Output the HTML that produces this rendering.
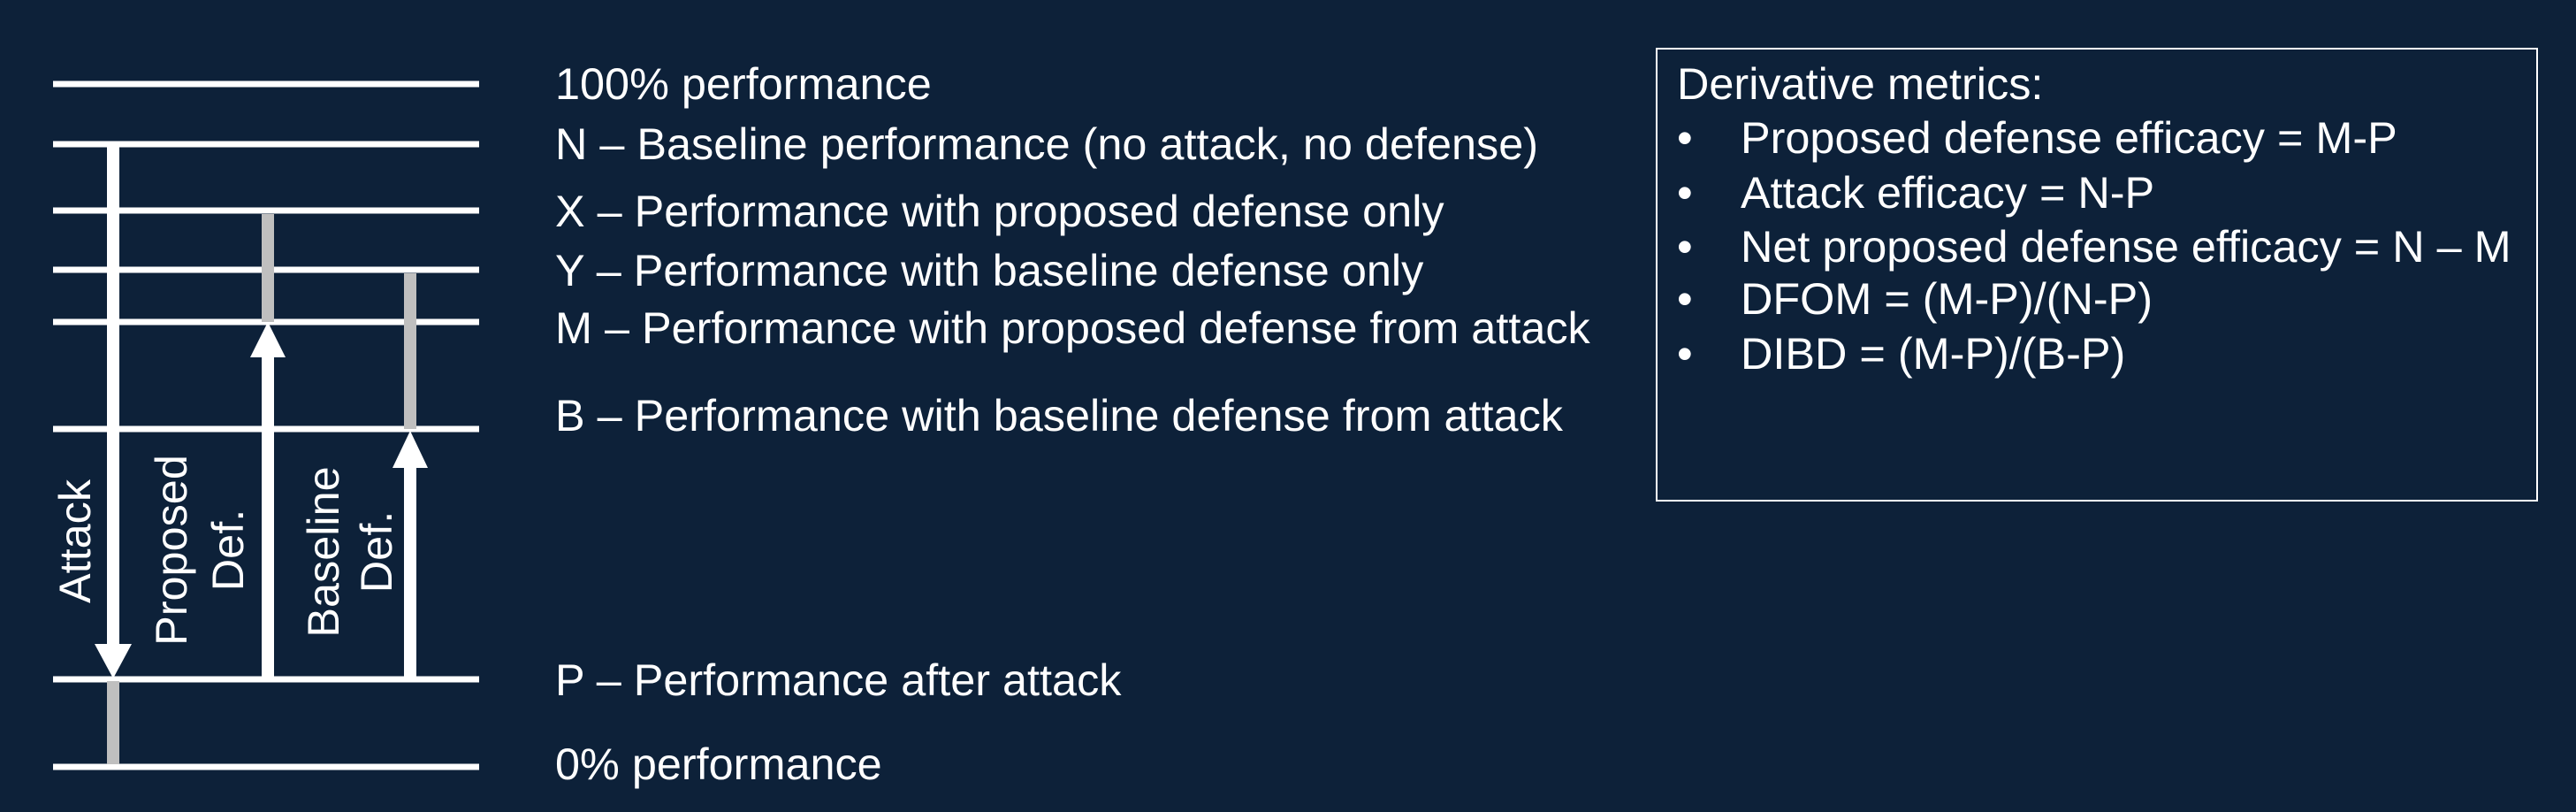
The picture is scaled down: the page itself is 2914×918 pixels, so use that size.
<!DOCTYPE html>
<html><head><meta charset="utf-8"><style>
html,body{margin:0;padding:0;background:#0d2139;}
svg{display:block;}
text{font-family:"Liberation Sans",Arial,sans-serif;fill:#fff;font-size:50.4px;}
</style></head><body>
<svg width="2914" height="918" viewBox="0 0 2914 918" xmlns="http://www.w3.org/2000/svg">
<rect width="2914" height="918" fill="#0d2139"/>
<g stroke="#fff" stroke-width="7">
<line x1="60" y1="95" x2="542" y2="95"/>
<line x1="60" y1="163" x2="542" y2="163"/>
<line x1="60" y1="238" x2="542" y2="238"/>
<line x1="60" y1="305" x2="542" y2="305"/>
<line x1="60" y1="364" x2="542" y2="364"/>
<line x1="60" y1="485" x2="542" y2="485"/>
<line x1="60" y1="768" x2="542" y2="768"/>
<line x1="60" y1="867" x2="542" y2="867"/>
</g>
<g stroke="#bfbfbf" stroke-width="14">
<line x1="128" y1="770" x2="128" y2="864"/>
<line x1="303" y1="242" x2="303" y2="364"/>
<line x1="464" y1="309" x2="464" y2="485"/>
</g>
<g stroke="#fff" stroke-width="14">
<line x1="128" y1="160" x2="128" y2="730"/>
<line x1="303" y1="771" x2="303" y2="402"/>
<line x1="464" y1="771" x2="464" y2="527"/>
</g>
<g fill="#fff">
<polygon points="107,728 149,728 128,767"/>
<polygon points="283,404 323,404 303,364"/>
<polygon points="444,529 484,529 464,487"/>
</g>
<text transform="translate(102,612) rotate(-90)" text-anchor="middle">Attack</text>
<text transform="translate(211,622) rotate(-90)" text-anchor="middle">Proposed</text>
<text transform="translate(275,622) rotate(-90)" text-anchor="middle">Def.</text>
<text transform="translate(383,624) rotate(-90)" text-anchor="middle">Baseline</text>
<text transform="translate(443,624) rotate(-90)" text-anchor="middle">Def.</text>
<text x="628" y="112">100% performance</text>
<text x="628" y="180">N – Baseline performance (no attack, no defense)</text>
<text x="628" y="256">X – Performance with proposed defense only</text>
<text x="628" y="323">Y – Performance with baseline defense only</text>
<text x="628" y="388">M – Performance with proposed defense from attack</text>
<text x="628" y="487">B – Performance with baseline defense from attack</text>
<text x="628" y="786">P – Performance after attack</text>
<text x="628" y="881">0% performance</text>
<rect x="1874" y="55" width="996" height="511" fill="none" stroke="#fff" stroke-width="2"/>
<text x="1897" y="112">Derivative metrics:</text>
<g>
<text x="1897" y="173">•</text><text x="1969" y="173">Proposed defense efficacy = M-P</text>
<text x="1897" y="235">•</text><text x="1969" y="235">Attack efficacy = N-P</text>
<text x="1897" y="296">•</text><text x="1969" y="296">Net proposed defense efficacy = N – M</text>
<text x="1897" y="355">•</text><text x="1969" y="355">DFOM = (M-P)/(N-P)</text>
<text x="1897" y="417">•</text><text x="1969" y="417">DIBD = (M-P)/(B-P)</text>
</g>
</svg>
</body></html>
